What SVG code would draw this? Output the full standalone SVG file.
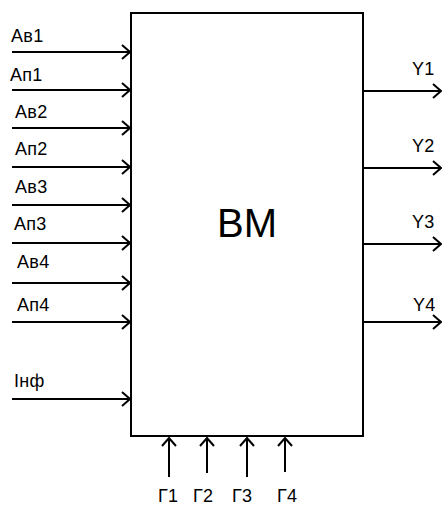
<svg xmlns="http://www.w3.org/2000/svg" width="443" height="506" viewBox="0 0 443 506">
<defs>
<style>
.t{font-family:"Liberation Sans",Arial,sans-serif;font-size:18px;letter-spacing:0.3px;fill:#000}
.big{font-family:"Liberation Sans",Arial,sans-serif;font-size:40px;fill:#000}
.ln{stroke:#000;stroke-width:2;fill:none}
</style>
<marker id="ah" viewBox="0 0 10 16" refX="9" refY="8" markerWidth="10" markerHeight="16" markerUnits="userSpaceOnUse" orient="auto">
<path d="M1 1 L9 8 L1 15" fill="none" stroke="#000" stroke-width="2"/>
</marker>
</defs>
<rect width="443" height="506" fill="#fff"/>
<g id="BM">
<rect x="131" y="13" width="232" height="423" class="ln"/>
<text x="217" y="237" class="big">BM</text>
</g>
<g id="connectors" class="ln">
<line x1="12" y1="52" x2="130" y2="52" marker-end="url(#ah)"/>
<line x1="12" y1="90" x2="130" y2="90" marker-end="url(#ah)"/>
<line x1="12" y1="128" x2="130" y2="128" marker-end="url(#ah)"/>
<line x1="12" y1="167" x2="130" y2="167" marker-end="url(#ah)"/>
<line x1="12" y1="205" x2="130" y2="205" marker-end="url(#ah)"/>
<line x1="12" y1="243" x2="130" y2="243" marker-end="url(#ah)"/>
<line x1="12" y1="283" x2="130" y2="283" marker-end="url(#ah)"/>
<line x1="12" y1="322" x2="130" y2="322" marker-end="url(#ah)"/>
<line x1="12" y1="399" x2="130" y2="399" marker-end="url(#ah)"/>
<line x1="363" y1="91" x2="441" y2="91" marker-end="url(#ah)"/>
<line x1="363" y1="168" x2="441" y2="168" marker-end="url(#ah)"/>
<line x1="363" y1="244" x2="441" y2="244" marker-end="url(#ah)"/>
<line x1="363" y1="322" x2="441" y2="322" marker-end="url(#ah)"/>
<line x1="169" y1="477" x2="169" y2="438" marker-end="url(#ah)"/>
<line x1="207" y1="473" x2="207" y2="438" marker-end="url(#ah)"/>
<line x1="247" y1="477" x2="247" y2="438" marker-end="url(#ah)"/>
<line x1="285" y1="472" x2="285" y2="438" marker-end="url(#ah)"/>
</g>
<g id="labels">
<text x="11" y="42" class="t">Ав1</text>
<text x="10" y="81" class="t">Ап1</text>
<text x="15" y="118" class="t">Ав2</text>
<text x="15" y="155" class="t">Ап2</text>
<text x="15" y="193" class="t">Ав3</text>
<text x="14" y="230" class="t">Ап3</text>
<text x="17" y="268" class="t">Ав4</text>
<text x="17" y="311" class="t">Ап4</text>
<text x="14" y="387" class="t">Інф</text>
<text x="412" y="75" class="t">Y1</text>
<text x="412" y="152" class="t">Y2</text>
<text x="412" y="228" class="t">Y3</text>
<text x="413" y="311" class="t">Y4</text>
<text x="158" y="502" class="t">Г1</text>
<text x="193" y="502" class="t">Г2</text>
<text x="232" y="502" class="t">Г3</text>
<text x="277" y="502" class="t">Г4</text>
</g>
</svg>
